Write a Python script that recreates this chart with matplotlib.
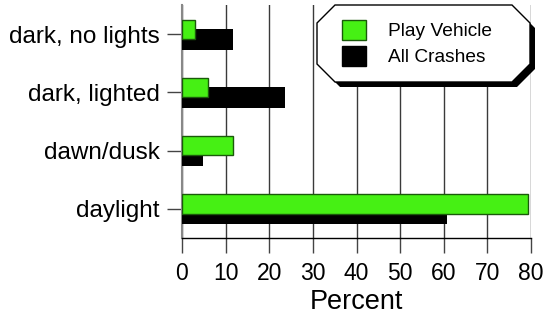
import numpy as np
import matplotlib
matplotlib.use('Agg')
import matplotlib.pyplot as plt
from matplotlib.patches import Polygon, Patch

plt.rcParams['font.family'] = ['Liberation Sans', 'DejaVu Sans']

categories = ['daylight', 'dawn/dusk', 'dark, lighted', 'dark, no lights']
play_vehicle = [79.4, 11.7, 6.0, 3.0]
all_crashes = [60.7, 4.8, 23.6, 11.8]
xticks = [0, 10, 20, 30, 40, 50, 60, 70, 80]

green = '#46f014'

fig = plt.figure(figsize=(5.47, 3.26), dpi=100)
ax = fig.add_axes([182 / 547, 88 / 326, 349 / 547, 233 / 326])

y = np.arange(len(categories))
ax.barh(y - 0.09, all_crashes, height=0.35, color='black', zorder=3)
ax.barh(y + 0.085, play_vehicle, height=0.33, color=green,
        edgecolor='#1a5a0a', linewidth=1, zorder=4)

ax.set_xlim(0, 80)
ax.set_ylim(-0.5, 3.5)
ax.set_yticks(y)
ax.set_yticklabels(categories, fontsize=17.5)
ax.set_xticks(xticks)
ax.set_xticklabels([str(v) for v in xticks], fontsize=16.5)
ax.tick_params(axis='x', length=11, width=1, color='#444444', pad=6)
ax.tick_params(axis='y', length=11, width=1, color='#444444', pad=5)
ax.grid(axis='x', color='#3a3a3a', linewidth=1, zorder=1)
ax.set_xlabel('Percent', fontsize=19.5, labelpad=3)

for s in ['top', 'right']:
    ax.spines[s].set_visible(False)
ax.spines['left'].set_color('#888888')
ax.spines['left'].set_linewidth(1.5)
ax.spines['bottom'].set_color('black')
ax.spines['bottom'].set_linewidth(1)

# octagon-like legend frame with shadow (figure pixel coords)
def octagon(x0, y0, x1, y1, c):
    return [(x0 + c, y0), (x1 - c, y0), (x1, y0 + c), (x1, y1 - c),
            (x1 - c, y1), (x0 + c, y1), (x0, y1 - c), (x0, y0 + c)]

W, H = 547, 326
def to_fig(pts):
    return [(px / W, 1 - py / H) for px, py in pts]

shadow = Polygon(to_fig(octagon(322, 10, 535, 87, 18)), closed=True,
                 transform=fig.transFigure, facecolor='black',
                 edgecolor='none', zorder=5)
frame = Polygon(to_fig(octagon(317, 5, 530, 82, 18)), closed=True,
                transform=fig.transFigure, facecolor='white',
                edgecolor='black', linewidth=1, zorder=6)
fig.patches.extend([shadow, frame])

handles = [Patch(facecolor=green, edgecolor='#1a5a0a', label='Play Vehicle'),
           Patch(facecolor='black', edgecolor='black', label='All Crashes')]
leg = fig.legend(handles=handles, loc='center', bbox_to_anchor=(417 / W, 1 - 43 / H),
                 frameon=False, fontsize=13.8, handlelength=1.3, handleheight=1.25,
                 handletextpad=1.15, labelspacing=0.3)
leg.set_zorder(7)

fig.savefig('out.png', dpi=100)
